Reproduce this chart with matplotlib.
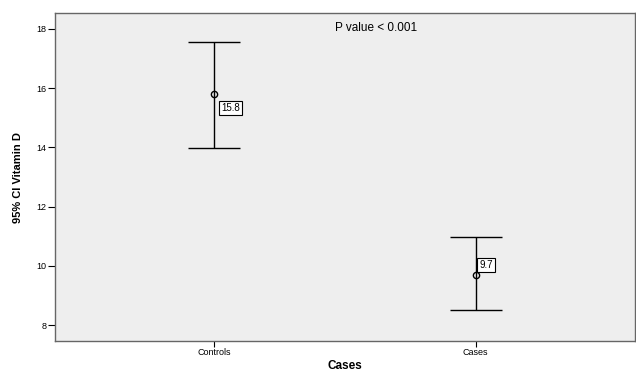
import numpy as np
import matplotlib.pyplot as plt

groups = ["Controls", "Cases"]
means = [15.8, 9.7]
lower = [13.97, 8.5]
upper = [17.57, 10.97]
mean_labels = ["15.8", "9.7"]

plt.rcParams['font.family'] = ['Liberation Sans', 'DejaVu Sans']

fig = plt.figure(figsize=(6.36, 3.73), dpi=100)
ax = fig.add_axes([55 / 636, 1 - 341 / 373, 580 / 636, 328 / 373])
ax.set_facecolor("#eeeeee")

x = np.arange(len(groups))
m = np.array(means)
err = [m - np.array(lower), np.array(upper) - m]
ax.errorbar(x, m, yerr=err, fmt="o", mfc="none", mec="black", ms=4.5,
            ecolor="black", elinewidth=1, capsize=19, capthick=1, color="black")

offsets = [(5, -10), (2.5, 7)]
for xi, mi, lab, off in zip(x, m, mean_labels, offsets):
    ax.annotate(lab, (xi, mi), xytext=off, textcoords="offset points",
                fontsize=7, ha="left", va="center",
                bbox=dict(boxstyle="square,pad=0.25", fc="white", ec="black", lw=0.8))

ax.text(0.482, 0.955, "P value < 0.001", transform=ax.transAxes, fontsize=8.5,
        ha="left", va="center")

ax.set_xlim(-0.61, 1.61)
ax.set_ylim(7.46, 18.54)
ax.set_xticks(x)
ax.set_xticklabels(groups, fontsize=6.5)
ax.set_yticks([8, 10, 12, 14, 16, 18])
ax.tick_params(axis="y", labelsize=6.5, length=5, width=0.8, pad=1)
ax.tick_params(axis="x", length=4, width=0.8, pad=1)

for s in ax.spines.values():
    s.set_color("#666666")
    s.set_linewidth(1)

ax.set_ylabel("95% CI Vitamin D", fontsize=8, fontweight="bold", labelpad=10)
ax.set_xlabel("Cases", fontsize=8.5, fontweight="bold", labelpad=2)

fig.savefig("out.png", dpi=100)
